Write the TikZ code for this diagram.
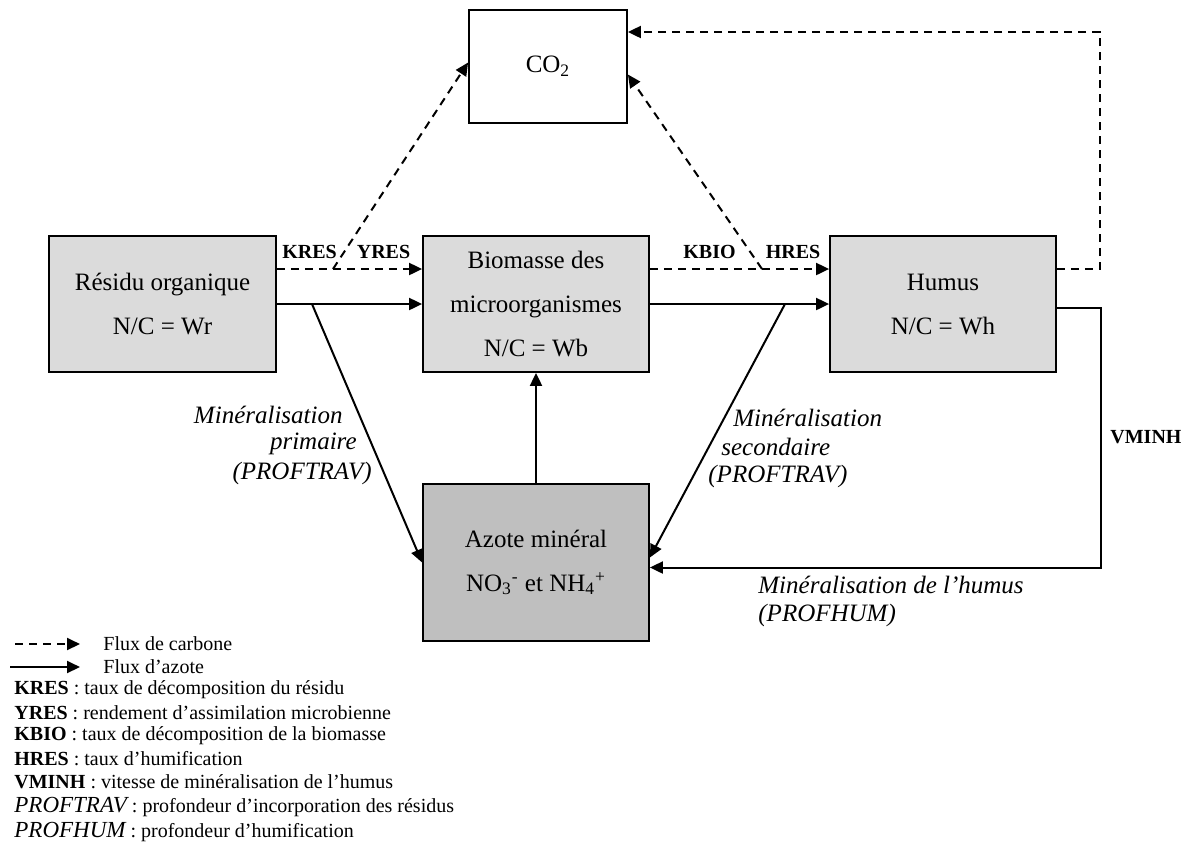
\documentclass[tikz,border=0pt]{standalone}
\usepackage{fontspec}
\setmainfont{Liberation Serif}
\usetikzlibrary{arrows.meta}

\definecolor{paleg}{gray}{0.86}
\definecolor{midg}{gray}{0.75}

\tikzset{
  box/.style={draw, line width=0.9pt, inner sep=0pt, align=center,
    minimum width=113pt, minimum height=68pt, font=\fontsize{12.5}{22}\selectfont},
  carb/.style={line width=1pt, dash pattern=on 4pt off 3pt, -{Triangle[length=6.5pt,width=6pt]}},
  azo/.style={line width=1pt, -{Triangle[length=6.5pt,width=6pt]}},
  tag/.style={inner sep=0pt, font=\fontsize{10}{12}\selectfont\bfseries},
  mlab/.style={inner sep=0pt, font=\fontsize{12.5}{14}\selectfont\itshape},
  leg/.style={anchor=west, inner sep=0pt, font=\fontsize{10}{12}\selectfont}
}

\begin{document}
\begin{tikzpicture}[x=0.5pt,y=-0.5pt]
\useasboundingbox (0,0) rectangle (1189,848);

% compartments
\node[box, fill=paleg, minimum width=113.5pt] (res) at (162.5,304) {Résidu organique\\N/C = Wr};
\node[box, fill=paleg] (bio) at (536,304) {Biomasse des\\microorganismes\\N/C = Wb};
\node[box, fill=paleg] (hum) at (943,304) {Humus\\N/C = Wh};
\node[box, fill=midg, minimum height=78.5pt] (azo) at (536,562.5) {Azote minéral\\NO\textsubscript{3}\textsuperscript{-} et NH\textsubscript{4}\textsuperscript{+}};
\node[box, fill=white, minimum width=79pt, minimum height=56.5pt] (co2) at (548,66.5) {CO\textsubscript{2}};

\coordinate (crow) at (0,269);
\coordinate (kres) at (333,269);
\coordinate (kbio) at (762,269);
\coordinate (mprim) at (312,304);
\coordinate (msec) at (785,304);
\coordinate (ne) at (1100,32);
\coordinate (se) at (1101,567.5);
\coordinate (hout) at (1056,308);

% carbon
\draw[carb] (res.east |- crow) -- (bio.west |- crow);
\draw[carb] (bio.east |- crow) -- (hum.west |- crow);
\draw[carb] (kres) -- ([yshift=2pt]co2.west);
\draw[carb] (kbio) -- ([yshift=-4pt]co2.east);
\draw[carb] (hum.east |- crow) -| (ne) -- (co2.east |- ne);

% nitrogen
\draw[azo] (res.east) -- (bio.west);
\draw[azo] (bio.east) -- (hum.west);
\draw[azo] (azo.north) -- (bio.south);
\draw[azo] (mprim) -- (azo.west);
\draw[azo] (msec) -- ([yshift=2.5pt]azo.east);
\draw[azo] (hout) -| (se) -- (azo.east |- se);

\node[tag] (tkres) at (309.5,252) {KRES};
\node[tag] (tyres) at (383.5,252) {YRES};
\node[tag] (tkbio) at (709.5,252) {KBIO};
\node[tag] (thres) at (793,252) {HRES};
\node[tag, anchor=west] (tvminh) at (1110,437) {VMINH};

\node[mlab, anchor=east] (p1) at (343,415) {Minéralisation};
\node[mlab, anchor=east] (p2) at (357,444) {primaire};
\node[mlab, anchor=east] (p3) at (372,473) {(PROFTRAV)};
\node[mlab, anchor=west] (s1) at (733,418) {Minéralisation};
\node[mlab, anchor=west] (s2) at (721,447) {secondaire};
\node[mlab, anchor=west] (s3) at (708,476) {(PROFTRAV)};
\node[mlab, anchor=west, align=left] (h1) at (758,601) {Minéralisation de l’humus\\(PROFHUM)};

% legend
\draw[carb] (15,644) -- (80,644);
\draw[azo] (10,667) -- (80,667);
\node[leg] (lc) at (103,644) {Flux de carbone};
\node[leg] (ln) at (103,667) {Flux d’azote};
\foreach \ab/\txt [count=\i] in {KRES/taux de décomposition du résidu,
    YRES/rendement d’assimilation microbienne,
    KBIO/taux de décomposition de la biomasse,
    HRES/taux d’humification,
    VMINH/vitesse de minéralisation de l’humus}
  \node[leg] (def\i) at (14,{667+23*\i}) {\textbf{\ab} : \txt};
\node[leg] (def6) at (14,807) {{\fontsize{11.5}{14}\selectfont\itshape PROFTRAV} : profondeur d’incorporation des résidus};
\node[leg] (def7) at (14,832) {{\fontsize{11.5}{14}\selectfont\itshape PROFHUM} : profondeur d’humification};

\end{tikzpicture}
\end{document}
